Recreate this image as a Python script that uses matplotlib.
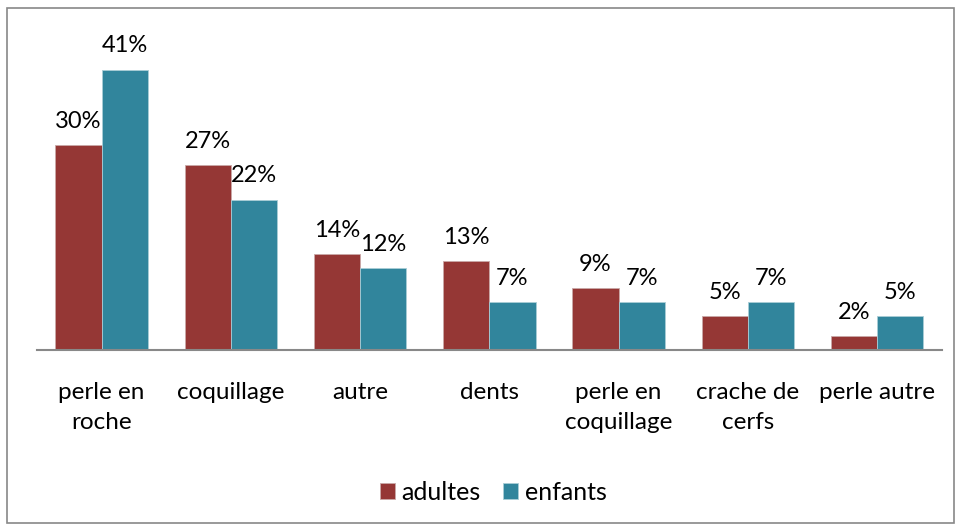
import numpy as np
import matplotlib.pyplot as plt
from matplotlib.patches import Rectangle

categories = ["perle en\nroche", "coquillage", "autre", "dents",
              "perle en\ncoquillage", "crache de\ncerfs", "perle autre"]
adultes = [30, 27, 14, 13, 9, 5, 2]
enfants = [41, 22, 12, 7, 7, 7, 5]

plt.rcParams['font.family'] = ['Lato', 'DejaVu Sans']

red = "#953735"
teal = "#31859C"

fig = plt.figure(figsize=(9.6, 5.26), dpi=100)
ax = fig.add_axes([0.0385, 0.3346, 0.9425, 0.585])

x = np.arange(len(categories))
w = 0.357
b1 = ax.bar(x - w/2, adultes, w, color=red, edgecolor="#c9a9a8", linewidth=0.6, label="adultes")
b2 = ax.bar(x + w/2, enfants, w, color=teal, edgecolor="#a9cdd6", linewidth=0.6, label="enfants")

for bars, vals in [(b1, adultes), (b2, enfants)]:
    for r, v in zip(bars, vals):
        ax.annotate(f"{v}%", (r.get_x() + r.get_width()/2, v), xytext=(0, 9.5),
                    textcoords="offset points", ha="center", va="bottom", fontsize=17)

ax.set_xlim(-0.5, len(categories) - 0.5)
ax.set_ylim(0, 45)
ax.set_xticks(x)
ax.set_xticklabels(categories, fontsize=17.5, linespacing=1.55)
ax.tick_params(axis="x", length=0, pad=23)
ax.set_yticks([])
for s in ["top", "right", "left"]:
    ax.spines[s].set_visible(False)
ax.spines["bottom"].set_color("#888888")
ax.spines["bottom"].set_linewidth(1.5)

fig.legend(handles=[b1, b2], loc="center", bbox_to_anchor=(0.514, 0.064), ncol=2,
           frameon=False, fontsize=18, handlelength=0.6, handleheight=0.6,
           handletextpad=0.25, columnspacing=0.9)

fig.patches.append(Rectangle((0.007, 0.006), 0.987, 0.979, transform=fig.transFigure,
                             fill=False, edgecolor="#888888", linewidth=1.2))

fig.savefig("out.png", dpi=100)
